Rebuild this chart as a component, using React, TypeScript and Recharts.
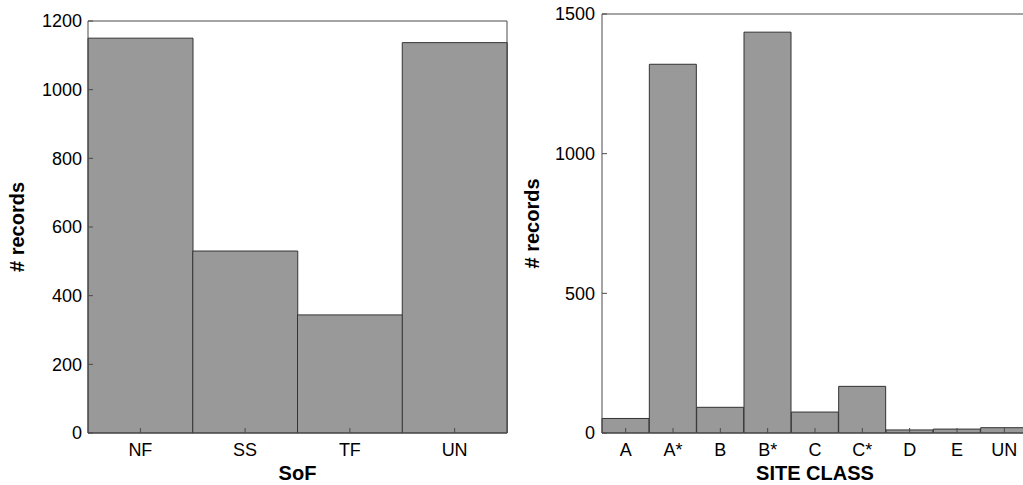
import React from "react";
import { BarChart, Bar, XAxis, YAxis } from "recharts";

// left panel: style of faulting
const sofCategories = ["NF", "SS", "TF", "UN"];
const sofCounts = [1150, 530, 344, 1137];
const sofTicks = [0, 200, 400, 600, 800, 1000, 1200];

// right panel: site class
const siteCategories = ["A", "A*", "B", "B*", "C", "C*", "D", "E", "UN"];
const siteCounts = [52, 1320, 92, 1435, 75, 167, 11, 14, 19];
const siteTicks = [0, 500, 1000, 1500];

const sofData = sofCategories.map((name, i) => ({ name, count: sofCounts[i] }));
const siteData = siteCategories.map((name, i) => ({ name, count: siteCounts[i] }));

const FONT = "'Liberation Sans', Arial, Helvetica, sans-serif";
const BOX = "#4a4a4a";
const tickStyle = { fill: "#000", fontSize: 18, fontFamily: FONT };
const labelStyle = { fill: "#000", fontSize: 20, fontWeight: 700, fontFamily: FONT, textAnchor: "middle" as const };

function Panel({
  data,
  ticks,
  max,
  xLabel,
  width,
  yWidth,
  marginTop,
  marginRight,
  labelOffset,
  yTickMargin,
}: any) {
  return (
    <BarChart
      width={width}
      height={485}
      data={data}
      barCategoryGap={0}
      margin={{ top: marginTop, right: marginRight, left: 0, bottom: 0 }}
    >
      <XAxis
        dataKey="name"
        height={52}
        tickSize={-5}
        tickMargin={15}
        tick={tickStyle}
        tickLine={{ stroke: BOX }}
        axisLine={{ stroke: BOX }}
        label={{ value: xLabel, position: "insideBottom", offset: 5, style: labelStyle }}
      />
      {/* mirrored axes close the box, ticks pointing inward */}
      <XAxis
        xAxisId="top"
        orientation="top"
        dataKey="name"
        height={1}
        tickSize={-5}
        tick={false}
        tickLine={{ stroke: BOX }}
        axisLine={{ stroke: BOX }}
      />
      <YAxis
        width={yWidth}
        domain={[0, max]}
        ticks={ticks}
        interval={0}
        tickSize={-5}
        tickMargin={yTickMargin}
        tick={tickStyle}
        tickLine={{ stroke: BOX }}
        axisLine={{ stroke: BOX }}
        label={{
          value: "# records",
          angle: -90,
          position: "insideLeft",
          offset: labelOffset,
          style: labelStyle,
        }}
      />
      <YAxis
        yAxisId="r"
        orientation="right"
        width={1}
        domain={[0, max]}
        ticks={ticks}
        interval={0}
        tickSize={-5}
        tick={false}
        tickLine={{ stroke: BOX }}
        axisLine={{ stroke: BOX }}
      />
      <Bar dataKey="count" fill="#999999" stroke="#333333" strokeWidth={1} isAnimationActive={false} />
    </BarChart>
  );
}

export default function App() {
  return (
    <div
      style={{
        position: "fixed",
        left: 0,
        top: 0,
        width: 1023,
        height: 485,
        overflow: "hidden",
        background: "#fff",
      }}
    >
      <div style={{ position: "absolute", left: 0, top: 0 }}>
        <Panel
          data={sofData}
          ticks={sofTicks}
          max={1200}
          xLabel="SoF"
          width={520}
          yWidth={88}
          marginTop={20}
          marginRight={12}
          labelOffset={17}
          yTickMargin={11}
        />
      </div>
      <div style={{ position: "absolute", left: 510, top: 0 }}>
        <Panel
          data={siteData}
          ticks={siteTicks}
          max={1500}
          xLabel="SITE CLASS"
          width={530}
          yWidth={92}
          marginTop={13}
          marginRight={11}
          labelOffset={22}
          yTickMargin={12}
        />
      </div>
    </div>
  );
}
